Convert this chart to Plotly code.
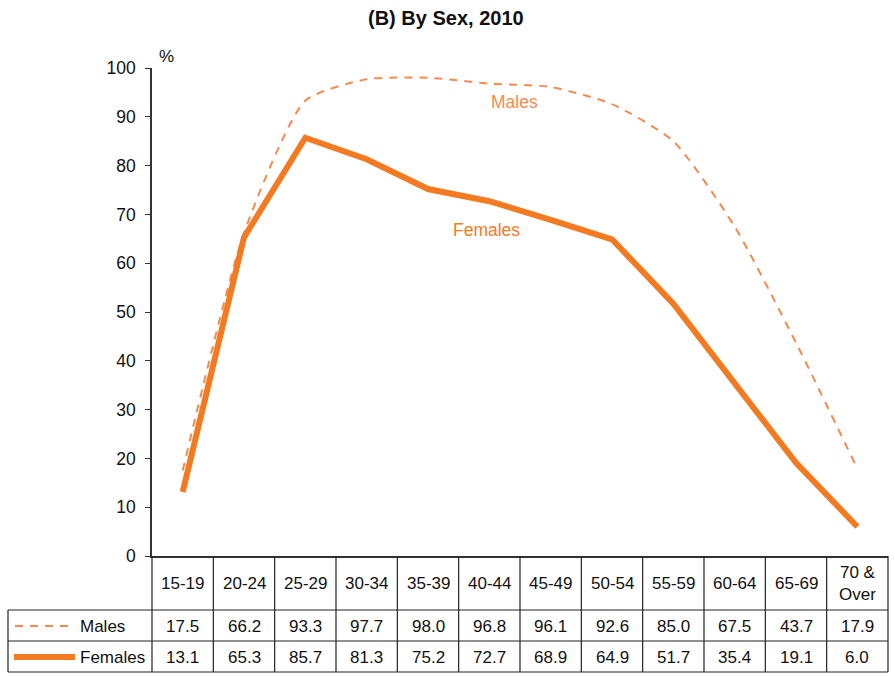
import plotly.graph_objects as go

categories = ["15-19", "20-24", "25-29", "30-34", "35-39", "40-44", "45-49",
              "50-54", "55-59", "60-64", "65-69", "70 &<br>Over"]
males = [17.5, 66.2, 93.3, 97.7, 98.0, 96.8, 96.1, 92.6, 85.0, 67.5, 43.7, 17.9]
females = [13.1, 65.3, 85.7, 81.3, 75.2, 72.7, 68.9, 64.9, 51.7, 35.4, 19.1, 6.0]
y_ticks = [0, 10, 20, 30, 40, 50, 60, 70, 80, 90, 100]

W, H = 895, 677
L, R, T, B = 152, 7, 68, 121
plot_h = H - T - B
plot_w = W - L - R

def py(p):
    return (H - B - p) / plot_h

def px(p):
    return (p - L) / plot_w

M_COL = "#F68A4E"
F_COL = "#F47A22"
FONT = "Liberation Sans, Arial, sans-serif"
TXT = "#111111"
x = list(range(len(categories)))

fig = go.Figure()
fig.add_trace(go.Scatter(x=x, y=males, mode="lines", name="Males",
                         line=dict(color=M_COL, width=2, dash="8px,7px", shape="spline", smoothing=0.6)))
fig.add_trace(go.Scatter(x=x, y=females, mode="lines", name="Females",
                         line=dict(color=F_COL, width=6)))

shapes = []
n = len(categories)
line_col = "#222222"
for i in range(n + 1):
    shapes.append(dict(type="line", xref="paper", yref="paper", x0=i / n, x1=i / n,
                       y0=py(556), y1=py(672), line=dict(color=line_col, width=1.2)))
shapes.append(dict(type="line", xref="paper", yref="paper", x0=px(8), x1=px(8),
                   y0=py(610), y1=py(672), line=dict(color=line_col, width=1.2)))
for yy in [610, 641, 672]:
    shapes.append(dict(type="line", xref="paper", yref="paper", x0=px(8), x1=1,
                       y0=py(yy), y1=py(yy), line=dict(color=line_col, width=1.2)))
shapes.append(dict(type="line", xref="paper", yref="paper", x0=px(15), x1=px(70),
                   y0=py(626), y1=py(626), line=dict(color=M_COL, width=2, dash="8px,7px")))
shapes.append(dict(type="line", xref="paper", yref="paper", x0=px(14), x1=px(75),
                   y0=py(657), y1=py(657), line=dict(color=F_COL, width=6)))

annotations = []
fs = 17

def ann(xv, xr, yv, text, size=fs, color=TXT, xanchor="center"):
    annotations.append(dict(x=xv, xref=xr, y=yv, yref="paper", text=text, showarrow=False,
                            xanchor=xanchor, yanchor="middle",
                            font=dict(size=size, color=color, family=FONT)))

for i, c in enumerate(categories):
    ann(i, "x", py(583), c)
    ann(i, "x", py(626), f"{males[i]:.1f}")
    ann(i, "x", py(657), f"{females[i]:.1f}")
ann(px(78), "paper", py(626), "Males", xanchor="left")
ann(px(78), "paper", py(657), "Females", xanchor="left")
ann(px(514), "paper", py(102), "Males", size=17.5, color=M_COL)
ann(px(486), "paper", py(230), "Females", size=17.5, color=F_COL)
ann(px(157), "paper", py(56), "%", size=17, xanchor="left")
ann(px(446), "paper", py(18), "<b>(B) By Sex, 2010</b>", size=20)

fig.update_layout(
    width=W, height=H,
    margin=dict(l=L, r=R, t=T, b=B),
    paper_bgcolor="white", plot_bgcolor="white",
    showlegend=False,
    shapes=shapes, annotations=annotations,
    xaxis=dict(range=[-0.5, n - 0.5], showticklabels=False, ticks="", showgrid=False,
               zeroline=False, showline=True, linecolor="#333333", linewidth=1.5),
    yaxis=dict(range=[0, 100], tickvals=y_ticks, ticks="outside", ticklen=5, tickcolor="#333333",
               showgrid=False, zeroline=False, showline=True, linecolor="#333333", linewidth=1.5,
               tickfont=dict(size=17.5, color=TXT, family=FONT), ticklabelstandoff=6),
)

fig.write_html("out.html", config={"displayModeBar": False},
               post_script="document.body.style.margin='0';")
